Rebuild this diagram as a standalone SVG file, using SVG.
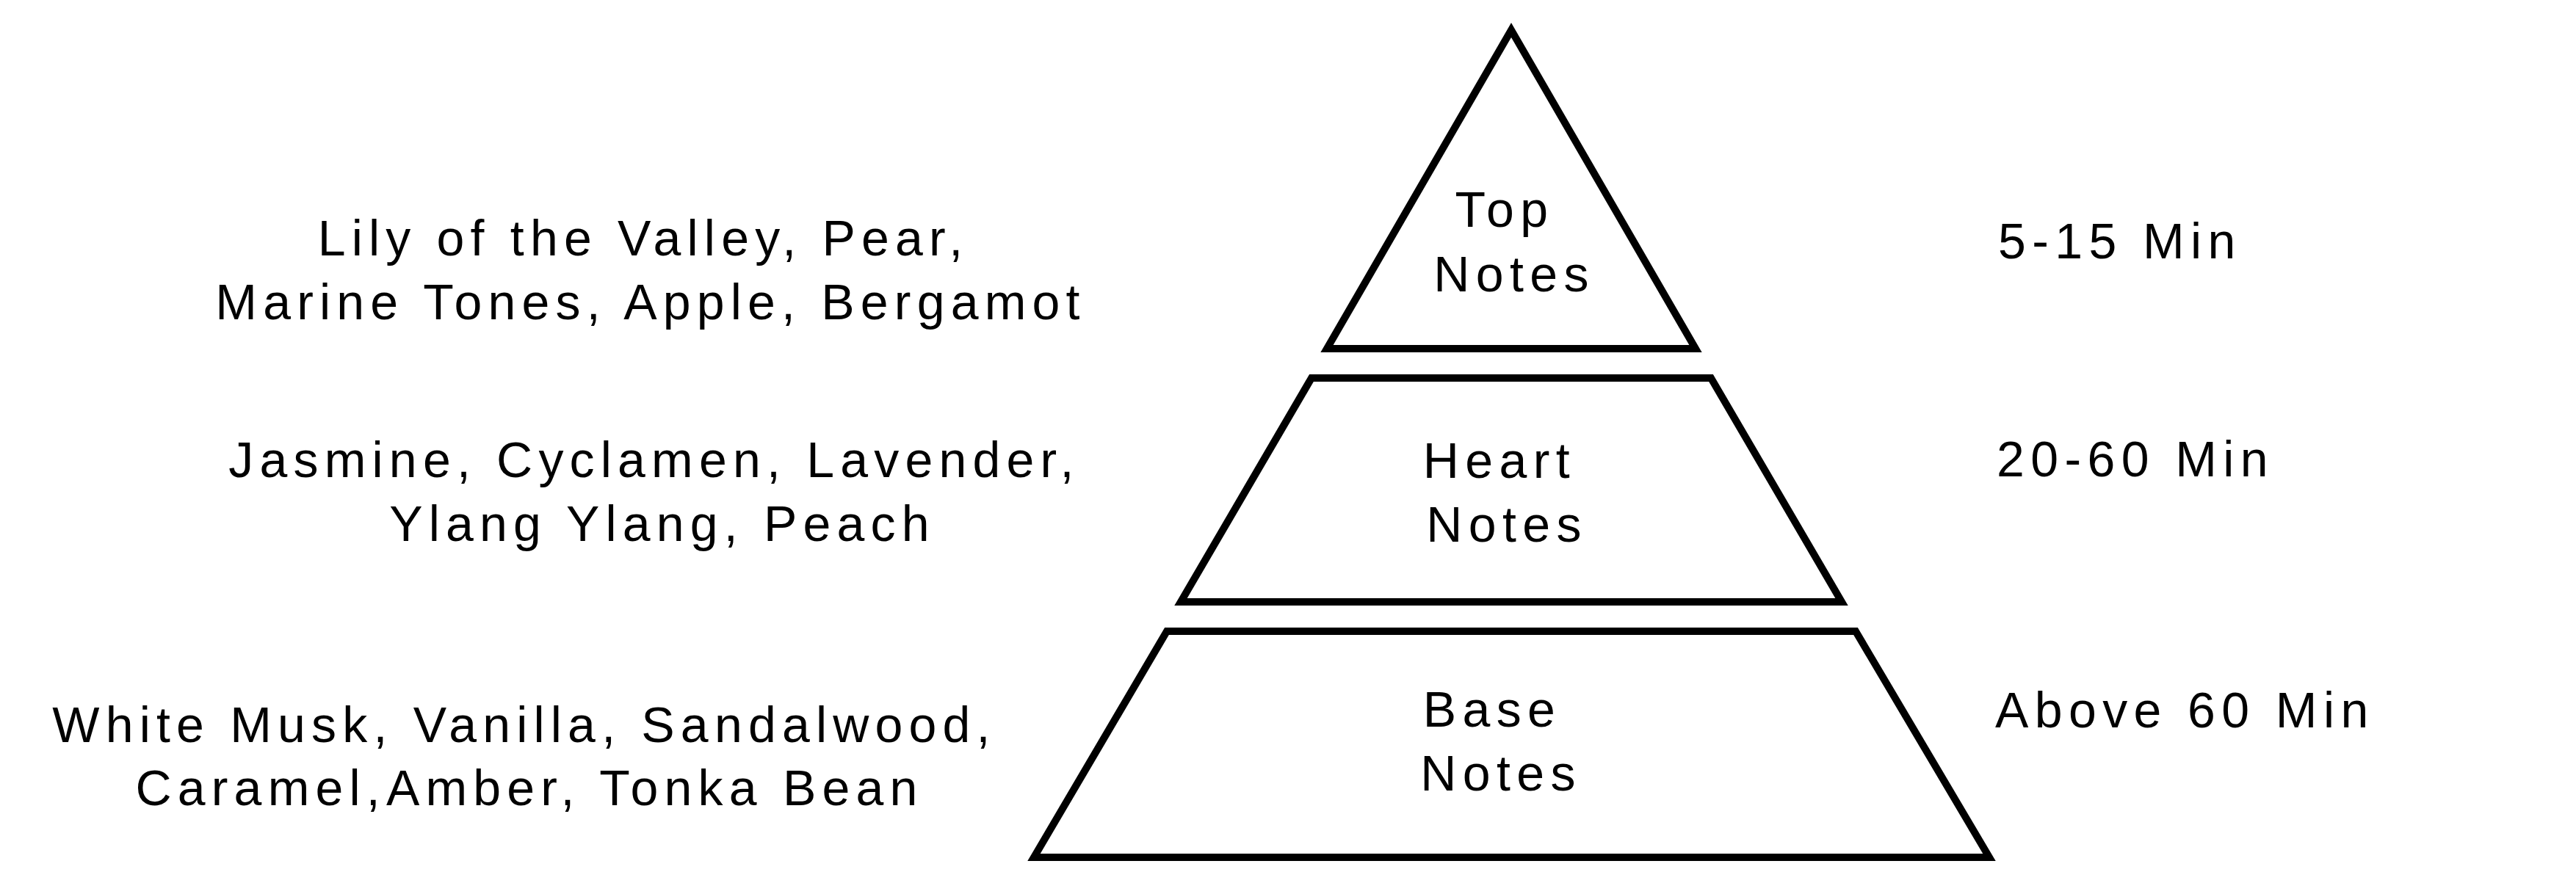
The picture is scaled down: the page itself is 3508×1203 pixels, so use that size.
<svg xmlns="http://www.w3.org/2000/svg" width="3508" height="1203" viewBox="0 0 3508 1203">
<style>
.tier{fill:#fff;stroke:#000;stroke-width:10;stroke-linejoin:miter;stroke-miterlimit:10}
text{font-family:"Liberation Sans",Arial,Helvetica,sans-serif;font-size:68px;fill:#000;letter-spacing:8.4px}
.c{text-anchor:middle}
.s{text-anchor:start}
.ing{letter-spacing:8.2px}
</style>
<rect width="3508" height="1203" fill="#fff"/>
<g id="connectors"></g>
<g id="top-notes">
<polygon class="tier" points="2058,41 2309,475 1807,475"/>
<text class="c" x="2049" y="309">Top</text>
<text class="c" x="2062" y="397">Notes</text>
</g>
<g id="heart-notes">
<polygon class="tier" points="1786,515 2330,515 2508,820 1608,820"/>
<text class="c" x="2042" y="651">Heart</text>
<text class="c" x="2052" y="738">Notes</text>
</g>
<g id="base-notes">
<polygon class="tier" points="1589,860 2527,860 2709,1168 1408,1168"/>
<text class="c" x="2032" y="990">Base</text>
<text class="c" x="2044" y="1077">Notes</text>
</g>
<g id="top-ingredients">
<text class="c ing" x="876" y="348">Lily of the Valley, Pear,</text>
<text class="c ing" x="886" y="435">Marine Tones, Apple, Bergamot</text>
</g>
<g id="heart-ingredients">
<text class="c ing" x="891" y="650">Jasmine, Cyclamen, Lavender,</text>
<text class="c ing" x="902" y="737">Ylang Ylang, Peach</text>
</g>
<g id="base-ingredients">
<text class="c ing" x="714" y="1011">White Musk, Vanilla, Sandalwood,</text>
<text class="c ing" x="721" y="1097">Caramel,Amber, Tonka Bean</text>
</g>
<g id="times">
<text class="s" x="2721" y="352">5-15 Min</text>
<text class="s" x="2719" y="649">20-60 Min</text>
<text class="s" x="2717" y="991">Above 60 Min</text>
</g>
</svg>
